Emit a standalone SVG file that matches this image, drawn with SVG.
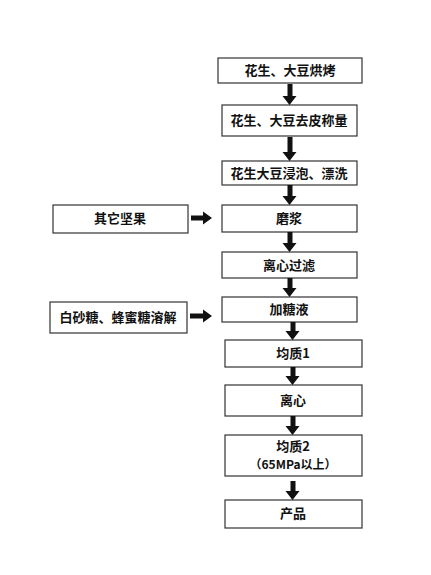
<svg xmlns="http://www.w3.org/2000/svg" width="431" height="575" viewBox="0 0 431 575">
<style>
.b{fill:#fff;stroke:#333;stroke-width:1.2}
.t{font-family:"Noto Sans CJK SC","Liberation Serif",serif;font-weight:bold;font-size:13px;fill:#111;text-anchor:middle}
.s{font-size:12px}
.a{fill:#111}
</style>
<rect width="431" height="575" fill="#fff"/>
<g id="n1"><rect class="b" x="218" y="58" width="144" height="25"/><text class="t" x="290" y="75">花生、大豆烘烤</text></g>
<g id="n2"><rect class="b" x="222" y="105" width="135" height="31"/><text class="t" x="289" y="125">花生、大豆去皮称量</text></g>
<g id="n3"><rect class="b" x="222" y="161" width="135" height="24"/><text class="t" x="289" y="178">花生大豆浸泡、漂洗</text></g>
<g id="n4"><rect class="b" x="222" y="205" width="135" height="27"/><text class="t" x="289" y="223">磨浆</text></g>
<g id="n5"><rect class="b" x="53" y="205" width="135" height="28"/><text class="t" x="120" y="223">其它坚果</text></g>
<g id="n6"><rect class="b" x="222" y="252" width="135" height="26"/><text class="t" x="289" y="270">离心过滤</text></g>
<g id="n7"><rect class="b" x="222" y="297" width="135" height="25"/><text class="t" x="289" y="314">加糖液</text></g>
<g id="n8"><rect class="b" x="50" y="302" width="137" height="31"/><text class="t" x="118" y="322">白砂糖、蜂蜜糖溶解</text></g>
<g id="n9"><rect class="b" x="225" y="340" width="137" height="27"/><text class="t" x="293" y="358">均质1</text></g>
<g id="n10"><rect class="b" x="225" y="385" width="137" height="31"/><text class="t" x="293" y="405">离心</text></g>
<g id="n11"><rect class="b" x="225" y="435" width="137" height="41"/><text class="t" x="293" y="451">均质2</text><text class="t s" x="293" y="469">（65MPa以上）</text></g>
<g id="n12"><rect class="b" x="225" y="500" width="137" height="28"/><text class="t" x="293" y="518">产品</text></g>
<g id="connectors">
<path class="a" d="M287.5 84h5v12h4l-7 9l-7-9h5z"/>
<path class="a" d="M287.5 137h5v15h4l-7 9l-7-9h5z"/>
<path class="a" d="M287.5 185h5v11h4l-7 9l-7-9h5z"/>
<path class="a" d="M287.5 232h5v11h4l-7 9l-7-9h5z"/>
<path class="a" d="M287.5 278h5v10h4l-7 9l-7-9h5z"/>
<path class="a" d="M290.5 322h5v9h4l-7 9l-7-9h5z"/>
<path class="a" d="M290.5 367h5v9h4l-7 9l-7-9h5z"/>
<path class="a" d="M290.5 416h5v10h4l-7 9l-7-9h5z"/>
<path class="a" d="M290.5 481h5v10h4l-7 9l-7-9h5z"/>
<path class="a" d="M191 215.5h12v-4l9 6.5l-9 6.5v-4h-12z"/>
<path class="a" d="M190 313.5h13v-4l9 6.5l-9 6.5v-4h-13z"/>
</g>
</svg>
